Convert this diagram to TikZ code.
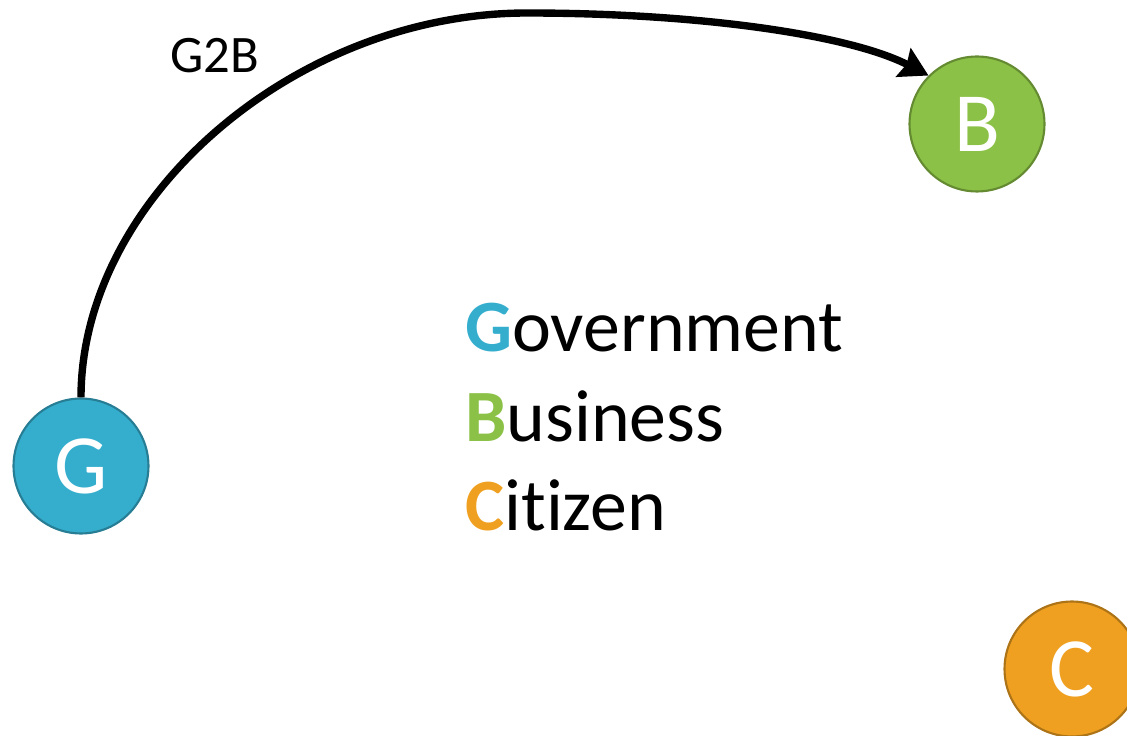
\documentclass[tikz,border=0pt]{standalone}
\usepackage{fontspec}
\setmainfont{Carlito}[Ligatures=NoCommon]
\usetikzlibrary{arrows.meta}

\definecolor{govblue}{RGB}{53,174,206}
\definecolor{busgreen}{RGB}{139,193,70}
\definecolor{citorange}{RGB}{240,160,32}

\begin{document}
\begin{tikzpicture}[x=0.02cm, y=-0.02cm,
  party/.style={circle, minimum size=2.7cm, inner sep=0pt, line width=1.2pt, text=white, font=\fontsize{48}{56}\selectfont},
  word/.style={anchor=base west, inner sep=0pt, font=\fontsize{42}{50}\selectfont}]

\clip (0,0) rectangle (1127,736);

\node[party, fill=govblue, draw=govblue!72!black] (G) at (81,466) {G};
\node[party, fill=busgreen, draw=busgreen!72!black] (B) at (977,124) {B};
\node[party, fill=citorange, draw=citorange!72!black] (C) at (1072,669) {C};

\node[word] (gov) at (465,352) {\textcolor{govblue}{\textbf{G}}overnment};
\node[word] (bus) at (465,441.5) {\textcolor{busgreen}{\textbf{B}}usiness};
\node[word] (cit) at (465,531) {\textcolor{citorange}{\textbf{C}}itizen};

\node[anchor=base west, inner sep=0pt, font=\fontsize{30}{36}\selectfont] (g2b) at (170,72.7) {G2B};

\coordinate (top) at (527,13);
\draw[line width=4.2pt, -{Stealth[length=16pt, width=18pt, inset=2pt]}] (G.north) .. controls (81,198) and (295,13) .. (top) .. controls (700,13) and (850,35) .. (B.135);
\end{tikzpicture}
\end{document}
